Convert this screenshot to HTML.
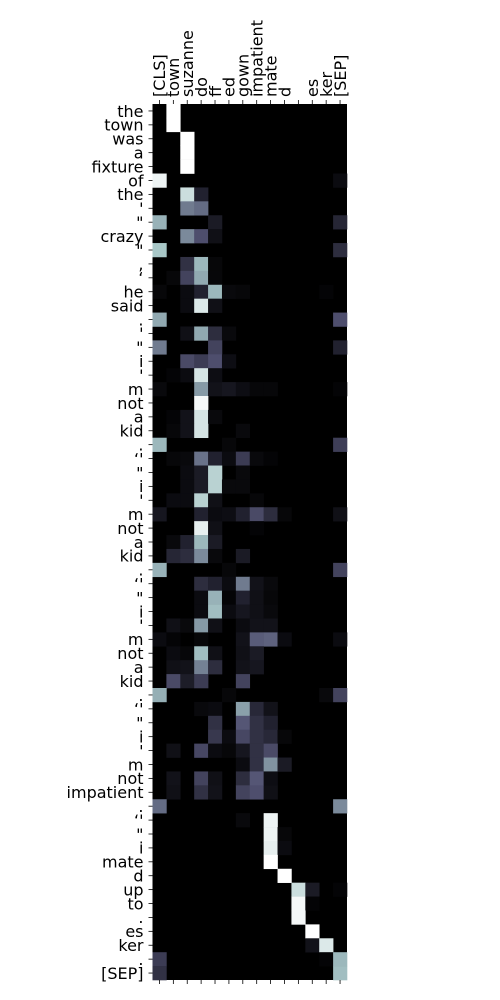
<!DOCTYPE html>
<html><head><meta charset="utf-8"><style>
html,body{margin:0;padding:0;background:#fff;width:500px;height:1000px;overflow:hidden}
svg{display:block}
text{font-family:"DejaVu Sans","Liberation Sans",sans-serif;font-size:16px;fill:#000}
</style></head><body>
<svg id="chart" width="500" height="1000"></svg>
<script>
const colLabels=["[CLS]","town","suzanne","do","ff","ed","gown","impatient","mate","d","","es","ker","[SEP]"];
const rowLabels=["the","town","was","a","fixture","of","the","'","\"","crazy","\"",",","\u2018","he","said",".","'","\"","i","'","m","not","a","kid",".","\u2018'","\"","i","'","m","not","a","kid",".","\u2018'","\"","i","'","m","not","a","kid",".","\u2018'","\"","i","'","m","not","impatient",".","\u2018'","\"","i","mate","d","up","to",".","es","ker",".","[SEP]"];
// sparse attention values per row: [col, value]
const cellValues=[
[[1,1]],[[1,1]],[[2,1]],[[2,1]],[[2,1]],
[[0,0.95],[13,0.05]],
[[2,0.85],[3,0.15]],
[[2,0.5],[3,0.45]],
[[0,0.68],[4,0.12],[13,0.17]],
[[2,0.55],[3,0.35],[4,0.07]],
[[0,0.75],[13,0.2]],
[[2,0.22],[3,0.7],[4,0.03]],
[[1,0.03],[2,0.3],[3,0.65],[4,0.03]],
[[0,0.03],[2,0.05],[3,0.15],[4,0.7],[5,0.04],[6,0.03],[12,0.02]],
[[2,0.05],[3,0.9],[4,0.07]],
[[0,0.65],[13,0.35]],
[[2,0.07],[3,0.65],[4,0.2],[5,0.04]],
[[0,0.5],[4,0.3],[13,0.15]],
[[2,0.33],[3,0.27],[4,0.35],[5,0.06]],
[[1,0.02],[2,0.05],[3,0.88],[4,0.06]],
[[0,0.04],[3,0.6],[4,0.08],[5,0.1],[6,0.06],[7,0.03],[8,0.03],[13,0.02]],
[[3,0.97]],
[[1,0.02],[2,0.08],[3,0.88],[4,0.04]],
[[1,0.03],[2,0.08],[3,0.88],[6,0.04]],
[[0,0.7],[5,0.03],[13,0.28]],
[[1,0.03],[2,0.04],[3,0.47],[4,0.15],[5,0.05],[6,0.27],[7,0.04],[8,0.02]],
[[2,0.05],[3,0.12],[4,0.8],[6,0.04]],
[[2,0.05],[3,0.12],[4,0.8],[5,0.04],[6,0.04]],
[[1,0.05],[2,0.05],[3,0.8],[4,0.07],[7,0.03]],
[[0,0.1],[3,0.15],[4,0.05],[5,0.06],[6,0.15],[7,0.33],[8,0.2],[9,0.03],[13,0.07]],
[[3,0.93],[4,0.07],[7,0.02]],
[[1,0.04],[2,0.15],[3,0.7],[4,0.12]],
[[1,0.17],[2,0.2],[3,0.55],[4,0.04],[6,0.12]],
[[0,0.68],[5,0.03],[13,0.3]],
[[3,0.2],[4,0.15],[5,0.05],[6,0.5],[7,0.08],[8,0.04]],
[[3,0.05],[4,0.68],[5,0.02],[6,0.15],[7,0.07],[8,0.03]],
[[3,0.05],[4,0.72],[5,0.05],[6,0.1],[7,0.07],[8,0.04]],
[[1,0.07],[2,0.04],[3,0.6],[4,0.07],[6,0.05],[7,0.08],[8,0.08]],
[[0,0.05],[1,0.02],[3,0.03],[6,0.08],[7,0.4],[8,0.42],[9,0.05],[13,0.05]],
[[1,0.05],[2,0.03],[3,0.72],[4,0.07],[6,0.07],[7,0.12]],
[[1,0.07],[2,0.08],[3,0.52],[4,0.2],[6,0.08],[7,0.1]],
[[1,0.33],[2,0.13],[3,0.27],[6,0.3]],
[[0,0.67],[5,0.03],[12,0.04],[13,0.3]],
[[3,0.04],[4,0.05],[6,0.62],[7,0.18],[8,0.08]],
[[4,0.22],[6,0.38],[7,0.22],[8,0.15]],
[[4,0.25],[5,0.05],[6,0.32],[7,0.22],[8,0.18],[9,0.03]],
[[1,0.07],[3,0.32],[4,0.05],[5,0.03],[6,0.1],[7,0.22],[8,0.33]],
[[6,0.05],[7,0.22],[8,0.58],[9,0.12]],
[[1,0.08],[3,0.3],[4,0.07],[6,0.2],[7,0.38],[8,0.06]],
[[1,0.07],[3,0.22],[4,0.08],[6,0.3],[7,0.35],[8,0.07]],
[[0,0.45],[13,0.55]],
[[6,0.04],[8,0.95]],
[[8,0.95],[9,0.03]],
[[8,0.93],[9,0.05]],
[[8,1]],
[[9,1]],
[[10,0.85],[11,0.12],[13,0.02]],
[[10,0.97],[11,0.02]],
[[10,0.97]],
[[11,1]],
[[11,0.08],[12,0.9]],
[[0,0.27],[12,0.02],[13,0.7]],
[[0,0.22],[13,0.72]]
];
const NS="http://www.w3.org/2000/svg";
const svg=document.getElementById("chart");
const X0=152.5,X1=347,Y0=104,Y1=980;
const cw=(X1-X0)/colLabels.length, ch=(Y1-Y0)/rowLabels.length;
const xs=c=>X0+c*cw, ys=r=>Y0+r*ch;
function interp(v,pts){for(let i=1;i<pts.length;i++){if(v<=pts[i][0]){const a=pts[i-1],b=pts[i];return a[1]+(b[1]-a[1])*(v-a[0])/(b[0]-a[0]);}}return pts[pts.length-1][1];}
function bone(v){v=Math.max(0,Math.min(1,v));
const r=interp(v,[[0,0],[0.746032,0.652778],[1,1]]);
const g=interp(v,[[0,0],[0.365079,0.319444],[0.746032,0.777778],[1,1]]);
const b=interp(v,[[0,0],[0.365079,0.444444],[1,1]]);
return `rgb(${Math.round(r*255)},${Math.round(g*255)},${Math.round(b*255)})`;}
function mk(t,a){const e=document.createElementNS(NS,t);for(const k in a)e.setAttribute(k,a[k]);svg.appendChild(e);return e;}
const bg=mk("rect",{x:X0,y:Y0,width:X1-X0,height:Y1-Y0,fill:bone(0)});


cellValues.forEach((row,r)=>{row.forEach(([c,v])=>{
 const e=mk("rect",{x:xs(c),y:ys(r),width:cw+0.3,height:ch+0.3,fill:bone(v)});
 
 
});});
rowLabels.forEach((l,r)=>{
 const y=ys(r)+ch/2;
 const t=mk("line",{x1:X0-4,x2:X0,y1:y,y2:y,stroke:"#000","stroke-width":0.8});
 
 
 const tx=mk("text",{x:X0-9,y:y+5.8,"text-anchor":"end"});
 tx.textContent=l;
 
 
});
colLabels.forEach((l,c)=>{
 const x=xs(c)+cw/2;
 const t=mk("line",{x1:x,x2:x,y1:Y0-4,y2:Y0,stroke:"#000","stroke-width":0.8});
 
 
 const b=mk("line",{x1:x,x2:x,y1:Y1,y2:Y1+4,stroke:"#000","stroke-width":0.8});
 
 
 const tx=mk("text",{x:0,y:0,transform:`translate(${x+5.8},${Y0-7}) rotate(-90)`});
 tx.textContent=l;
 
 
});
</script>
</body></html>
